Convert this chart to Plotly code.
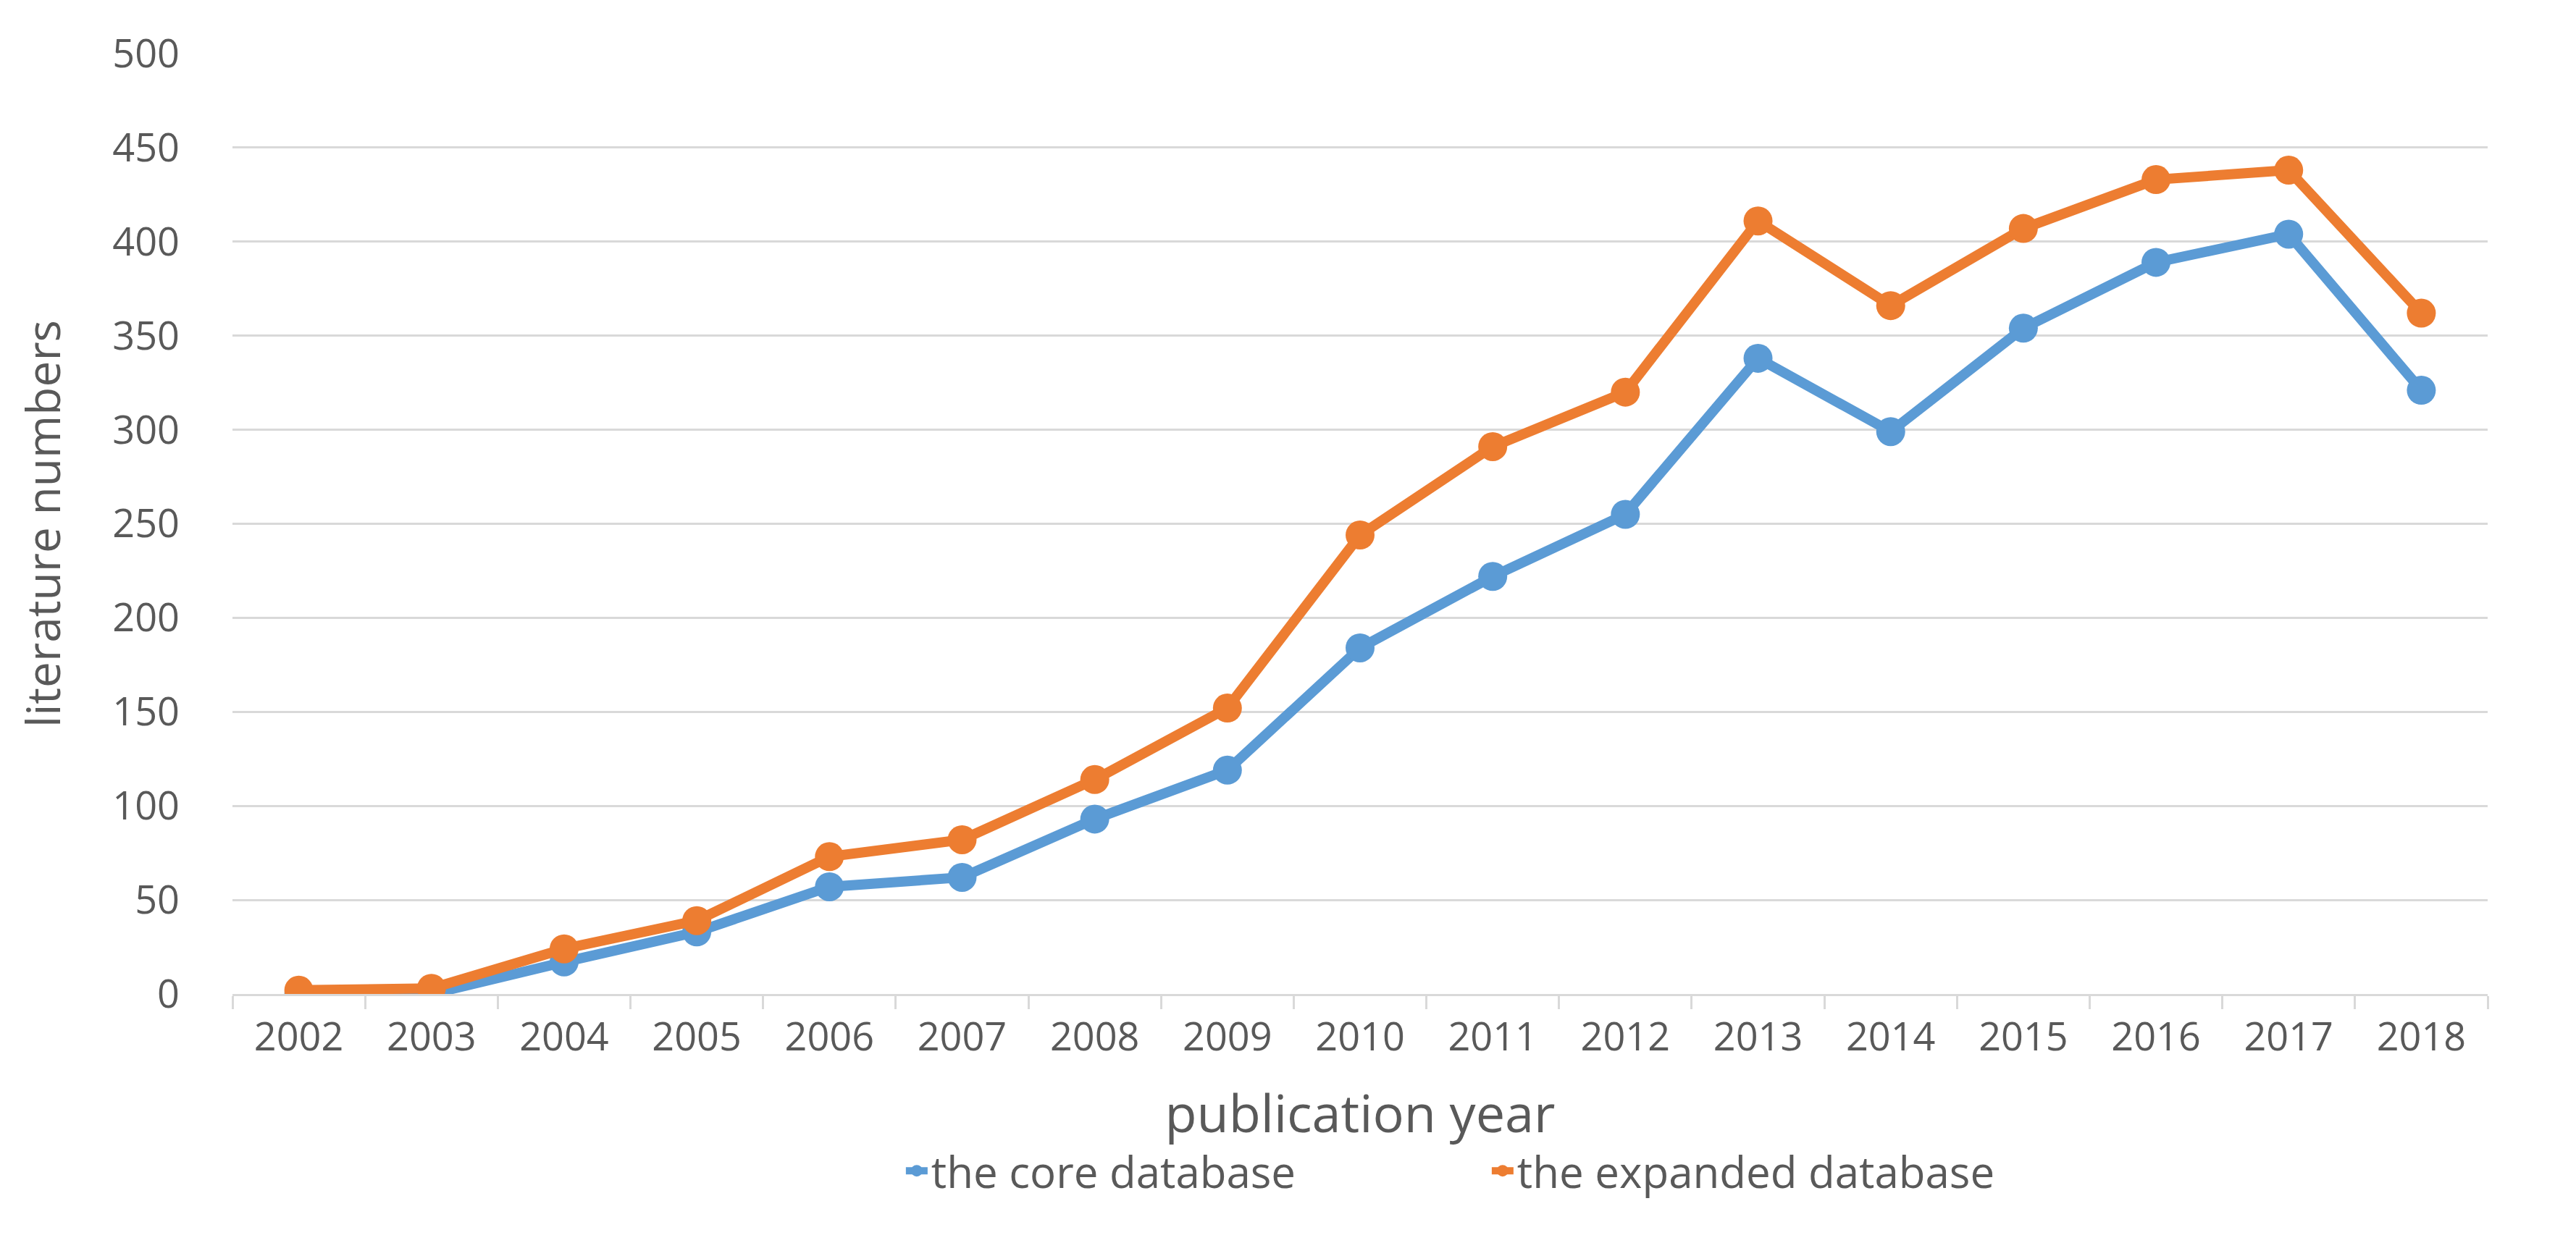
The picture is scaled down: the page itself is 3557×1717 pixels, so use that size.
import plotly.graph_objects as go

years = ["2002", "2003", "2004", "2005", "2006", "2007", "2008", "2009", "2010",
         "2011", "2012", "2013", "2014", "2015", "2016", "2017", "2018"]
core = [0, 0, 17, 33, 57, 62, 93, 119, 184, 222, 255, 338, 299, 354, 389, 404, 321]
expanded = [2, 3, 24, 39, 73, 82, 114, 152, 244, 291, 320, 411, 366, 407, 433, 438, 362]
y_ticks = [0, 50, 100, 150, 200, 250, 300, 350, 400, 450, 500]

BLUE = "#5B9BD5"
ORANGE = "#ED7D31"
TEXT = "#595959"
GRID = "#D9D9D9"
FONT = "Open Sans, Lato, sans-serif"

fig = go.Figure()
fig.add_trace(go.Scatter(x=years, y=core, mode="lines+markers", name="the core database",
                         line=dict(color=BLUE, width=14),
                         marker=dict(color=BLUE, size=40, symbol="circle")))
fig.add_trace(go.Scatter(x=years, y=expanded, mode="lines+markers", name="the expanded database",
                         line=dict(color=ORANGE, width=14),
                         marker=dict(color=ORANGE, size=40, symbol="circle")))

fig.update_layout(
    width=3557, height=1717,
    margin=dict(l=313, r=130, t=66, b=352),
    paper_bgcolor="white", plot_bgcolor="white",
    font=dict(family=FONT, color=TEXT, size=54),
    showlegend=True,
    legend=dict(orientation="h", x=0.297, xanchor="left", y=-0.188, yanchor="middle",
                font=dict(size=60, color=TEXT), itemwidth=30, entrywidth=764,
                tracegroupgap=0, borderwidth=0),
    xaxis=dict(
        type="category", categoryorder="array", categoryarray=years,
        range=[-0.5, len(years) - 0.5],
        showgrid=False, showline=True, linecolor=GRID, linewidth=3,
        ticks="outside", tickson="boundaries", ticklen=18, tickwidth=3, tickcolor=GRID,
        tickfont=dict(size=54, color=TEXT), ticklabelstandoff=10,
        title=dict(text="publication year", font=dict(size=72, color=TEXT), standoff=48),
        zeroline=False,
    ),
    yaxis=dict(
        range=[0, 500], tickvals=y_ticks, showgrid=True, gridcolor=GRID, gridwidth=3,
        showline=False, ticks="", zeroline=False,
        tickfont=dict(size=54, color=TEXT), ticklabelstandoff=72,
        title=dict(text="literature numbers", font=dict(size=64, color=TEXT), standoff=50),
    ),
)

fig.write_html("out.html")
